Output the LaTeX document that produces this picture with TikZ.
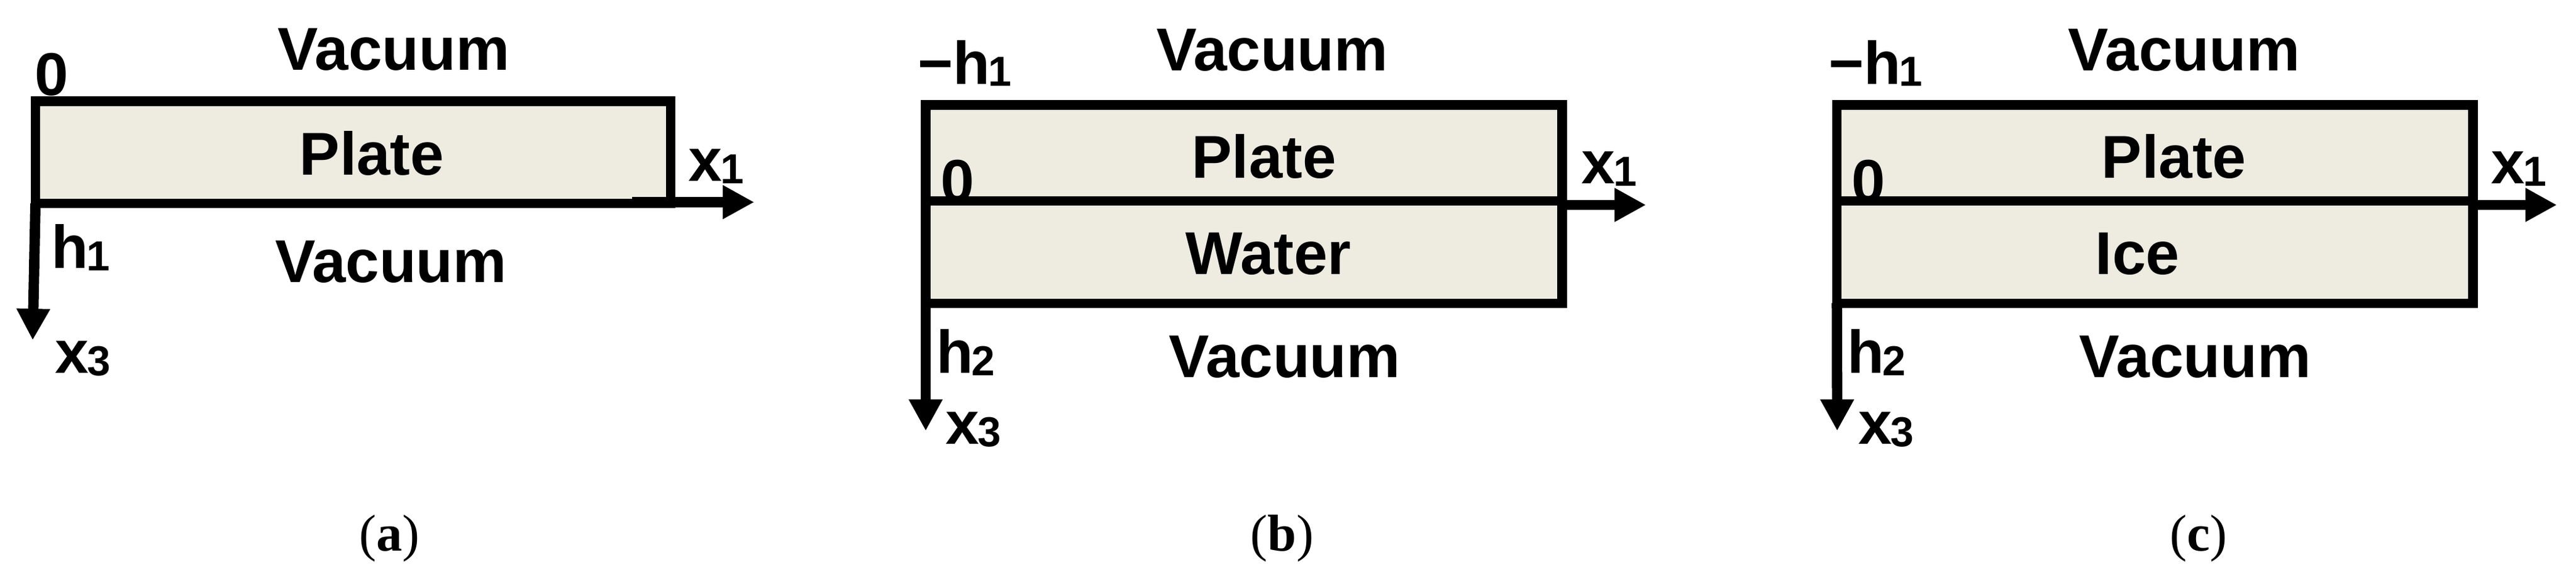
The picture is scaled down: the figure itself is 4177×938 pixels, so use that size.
\documentclass[tikz,border=0pt]{standalone}
\usepackage{fontspec}
\setmainfont{Liberation Serif}
\newfontfamily\lsans{Liberation Sans}
\usetikzlibrary{arrows.meta}
\definecolor{boxfill}{HTML}{EEECE1}
\newcommand{\mysub}[1]{\kern-0.6pt\raisebox{-0.8pt}{\fontsize{17}{17}\selectfont #1}}
\tikzset{
  lab/.style={inner sep=0pt, outer sep=0pt, font=\lsans\bfseries\fontsize{24.5}{24.5}\selectfont},
  captext/.style={inner sep=0pt, outer sep=0pt, font=\fontsize{21}{21}\selectfont},
  layerfill/.style={fill=boxfill},
  layerline/.style={draw=black, line width=3.8pt},
  axis/.style={line width=4.2pt, -{Triangle[length=12.7pt,width=12.8pt]}},
}
\begin{document}
\begin{tikzpicture}[x=0.25pt, y=-0.25pt]
\useasboundingbox (0,0) rectangle (4177,938);

% ---------------- panel (a)
\coordinate (a-tl) at (57.5,164);
\coordinate (a-br) at (1087.5,329.5);
\coordinate (a-bl) at (57.5,329.5);
\coordinate (a-x1s) at (1025,327.5);
\coordinate (a-x1) at (1223,327.5);
\coordinate (a-x3) at (53,551);
\fill[layerfill] (a-tl) rectangle (a-br);
\draw[layerline] (a-tl) rectangle (a-br);
\draw[axis] (a-x1s) -- (a-x1);
\draw[axis] (a-bl) -- (a-x3);
\node[lab, anchor=base] (a-vt) at (638.5,114) {Vacuum};
\node[lab, anchor=base west] (a-zero) at (56,155) {0};
\node[lab, anchor=base] (a-plate) at (603,284) {Plate};
\node[lab, anchor=base west] (a-x1l) at (1116,294) {x\mysub{1}};
\node[lab, anchor=base west] (a-h1) at (83,435) {h\mysub{1}};
\node[lab, anchor=base] (a-vb) at (634,458) {Vacuum};
\node[lab, anchor=base west] (a-x3l) at (89,605) {x\mysub{3}};
\node[captext, anchor=base] (a-cap) at (631,893) {(\textbf{a})};

% ---------------- panel (b)
\coordinate (b-tl) at (1501,170);
\coordinate (b-mr) at (2533,325.8);
\coordinate (b-ml) at (1501,325.8);
\coordinate (b-br) at (2533,491.2);
\coordinate (b-bl) at (1501,491.2);
\coordinate (b-x1s) at (2533,332);
\coordinate (b-x1) at (2669,332);
\coordinate (b-x3) at (1501,698);
\fill[layerfill] (b-tl) rectangle (b-br);
\node[lab, anchor=base west] (b-zero) at (1525,328) {0};
\draw[layerline] (b-tl) rectangle (b-mr);
\draw[layerline] (b-ml) rectangle (b-br);
\draw[axis] (b-x1s) -- (b-x1);
\draw[axis] (b-bl) -- (b-x3);
\node[lab, anchor=base west] (b-mh1) at (1488,136.7) {−h\mysub{1}};
\node[lab, anchor=base] (b-vt) at (2063,115) {Vacuum};
\node[lab, anchor=base] (b-plate) at (2049.5,288.4) {Plate};
\node[lab, anchor=base west] (b-x1l) at (2564,298) {x\mysub{1}};
\node[lab, anchor=base] (b-water) at (2056.5,445) {Water};
\node[lab, anchor=base west] (b-h2) at (1518,605) {h\mysub{2}};
\node[lab, anchor=base] (b-vb) at (2083,612) {Vacuum};
\node[lab, anchor=base west] (b-x3l) at (1533,720) {x\mysub{3}};
\node[captext, anchor=base] (b-cap) at (2079,893) {(\textbf{b})};

% ---------------- panel (c)
\coordinate (c-tl) at (2978.6,170);
\coordinate (c-mr) at (4010,325.8);
\coordinate (c-ml) at (2978.6,325.8);
\coordinate (c-br) at (4010,491.2);
\coordinate (c-bl) at (2978.6,491.2);
\coordinate (c-x1s) at (4010,332);
\coordinate (c-x1) at (4146,332);
\coordinate (c-x3) at (2979,698);
\fill[layerfill] (c-tl) rectangle (c-br);
\node[lab, anchor=base west] (c-zero) at (3002,328) {0};
\draw[layerline] (c-tl) rectangle (c-mr);
\draw[layerline] (c-ml) rectangle (c-br);
\draw[axis] (c-x1s) -- (c-x1);
\draw[axis] (c-bl) -- (c-x3);
\node[lab, anchor=base west] (c-mh1) at (2965,136.7) {−h\mysub{1}};
\node[lab, anchor=base] (c-vt) at (3541.5,115) {Vacuum};
\node[lab, anchor=base] (c-plate) at (3525,288.4) {Plate};
\node[lab, anchor=base west] (c-x1l) at (4039,298) {x\mysub{1}};
\node[lab, anchor=base] (c-ice) at (3466,445) {Ice};
\node[lab, anchor=base west] (c-h2) at (2995,605) {h\mysub{2}};
\node[lab, anchor=base] (c-vb) at (3559.5,612) {Vacuum};
\node[lab, anchor=base west] (c-x3l) at (3013,720) {x\mysub{3}};
\node[captext, anchor=base] (c-cap) at (3565,893) {(\textbf{c})};
\end{tikzpicture}
\end{document}
